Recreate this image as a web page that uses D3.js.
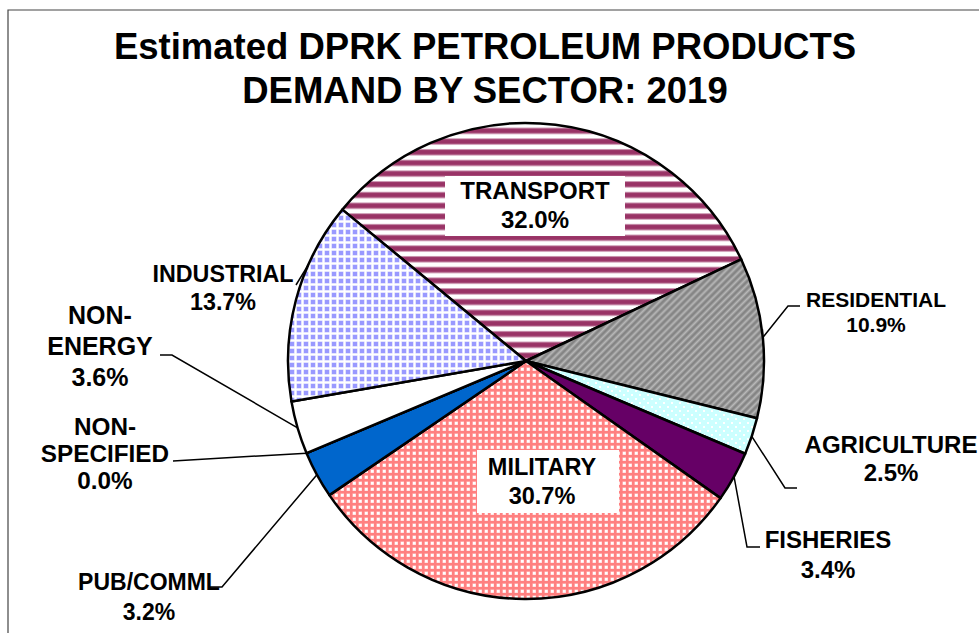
<!DOCTYPE html>
<html>
<head>
<meta charset="utf-8">
<script src="https://cdn.jsdelivr.net/npm/d3@7"></script>
<style>
  html, body { margin: 0; padding: 0; background: #fff; }
  svg { display: block; }
  text { font-family: "Liberation Sans", Arial, sans-serif; font-weight: bold; fill: #000; }
</style>
</head>
<body>
<svg id="chart" width="979" height="633"></svg>
<script>
// ---- data ----
const titleLines = ["Estimated DPRK PETROLEUM PRODUCTS", "DEMAND BY SECTOR: 2019"];
const categories = ["TRANSPORT", "RESIDENTIAL", "AGRICULTURE", "FISHERIES", "MILITARY", "PUB/COMML", "NON-SPECIFIED", "NON-ENERGY", "INDUSTRIAL"];
const values = [32.0, 10.9, 2.5, 3.4, 30.7, 3.2, 0.0, 3.6, 13.7];
const labelNames = [["TRANSPORT"], ["RESIDENTIAL"], ["AGRICULTURE"], ["FISHERIES"], ["MILITARY"], ["PUB/COMML"], ["NON-", "SPECIFIED"], ["NON-", "ENERGY"], ["INDUSTRIAL"]];

// ---- layout / style ----
const W = 979, H = 633;
const cx = 526, cy = 361, R = 238;
const startDeg = -50.5;
const fills = ["url(#pTransport)", "url(#pResidential)", "url(#pAgri)", "#660066", "url(#pMilitary)", "#0066cc", "#ffffff", "#ffffff", "url(#pIndustrial)"];
const labelLayout = {
  "TRANSPORT":     {x: 535, y: 199, lh: 29, fs: 24, box: [445, 176, 180, 60]},
  "MILITARY":      {x: 542, y: 475, lh: 29, fs: 23.5, box: [477, 450, 142, 63]},
  "RESIDENTIAL":   {x: 876, y: 307, lh: 25, fs: 21, leader: [[788, 306], [800, 306]]},
  "AGRICULTURE":   {x: 891, y: 453, lh: 28, fs: 24, leader: [[785, 488], [797, 488]]},
  "FISHERIES":     {x: 828, y: 548, lh: 30, fs: 24, leader: [[747, 547], [760, 547]]},
  "PUB/COMML":     {x: 149, y: 590, lh: 30, fs: 23, leader: [[222, 587], [208, 587]]},
  "NON-SPECIFIED": {x: 105, y: 435, lh: 27, fs: 24.3, leader: [[173, 461]]},
  "NON-ENERGY":    {x: 100, y: 324, lh: 31, fs: 25, leader: [[172, 355], [160, 355]]},
  "INDUSTRIAL":    {x: 223, y: 282, lh: 28, fs: 23.3, leader: [[296, 285]], leaderAngle: 293.8}
};

const svg = d3.select("#chart");
const defs = svg.append("defs");

// Transport: horizontal maroon stripes
{
  const p = defs.append("pattern").attr("id", "pTransport").attr("patternUnits", "userSpaceOnUse")
    .attr("width", 10).attr("height", 10.7);
  p.append("rect").attr("width", 10).attr("height", 10.7).attr("fill", "#ffffff");
  p.append("rect").attr("y", 2).attr("width", 10).attr("height", 6.5).attr("fill", "#c991ad");
  p.append("rect").attr("y", 3).attr("width", 10).attr("height", 4.5).attr("fill", "#993366");
}
// Residential: gray with diagonal light stripes
{
  const p = defs.append("pattern").attr("id", "pResidential").attr("patternUnits", "userSpaceOnUse")
    .attr("width", 5).attr("height", 5).attr("patternTransform", "rotate(-45)");
  p.append("rect").attr("width", 5).attr("height", 5).attr("fill", "#858585");
  p.append("rect").attr("y", 1.5).attr("width", 5).attr("height", 2).attr("fill", "#b8b8b8");
}
// Agriculture: light cyan with white dots
{
  const p = defs.append("pattern").attr("id", "pAgri").attr("patternUnits", "userSpaceOnUse")
    .attr("width", 8).attr("height", 8);
  p.append("rect").attr("width", 8).attr("height", 8).attr("fill", "#ccffff");
  p.append("rect").attr("x", 1).attr("y", 1).attr("width", 2).attr("height", 2).attr("fill", "#ffffff");
  p.append("rect").attr("x", 5).attr("y", 5).attr("width", 2).attr("height", 2).attr("fill", "#ffffff");
}
// Military: pink with white small squares
{
  const p = defs.append("pattern").attr("id", "pMilitary").attr("patternUnits", "userSpaceOnUse")
    .attr("width", 6).attr("height", 6);
  p.append("rect").attr("width", 6).attr("height", 6).attr("fill", "#ff8080");
  p.append("rect").attr("x", 0.5).attr("y", 0.5).attr("width", 3.5).attr("height", 3.5).attr("fill", "#ffd0d0");
  p.append("rect").attr("x", 1).attr("y", 1).attr("width", 2.5).attr("height", 2.5).attr("fill", "#ffffff");
}
// Industrial: lavender-blue with white grid
{
  const p = defs.append("pattern").attr("id", "pIndustrial").attr("patternUnits", "userSpaceOnUse")
    .attr("width", 7).attr("height", 7);
  p.append("rect").attr("width", 7).attr("height", 7).attr("fill", "#ffffff");
  p.append("rect").attr("x", 1.5).attr("y", 1.5).attr("width", 5).attr("height", 5).attr("fill", "#c8c8ff");
  p.append("rect").attr("x", 2).attr("y", 2).attr("width", 4).attr("height", 4).attr("fill", "#9999ff");
}

// frame
svg.append("path").attr("d", `M8,${H} V10 H${W}`).attr("fill", "none").attr("stroke", "#444").attr("stroke-width", 1.2);

// title
svg.append("g").selectAll("text").data(titleLines).join("text")
  .attr("x", 485).attr("y", (d, i) => 59 + i * 44)
  .attr("text-anchor", "middle").attr("font-size", 36.5).text(d => d);

// pie
const data = categories.map((c, i) => ({cat: c, value: values[i], fill: fills[i], lines: labelNames[i]}));
const toRad = d => d * Math.PI / 180;
const pie = d3.pie().sort(null).value(d => d.value)
  .startAngle(toRad(startDeg)).endAngle(toRad(startDeg) + 2 * Math.PI);
const arcs = pie(data);
const arc = d3.arc().innerRadius(0).outerRadius(R);

const g = svg.append("g").attr("transform", `translate(${cx},${cy})`);
g.selectAll("path.slice").data(arcs).join("path").attr("class", "slice")
  .attr("d", arc).attr("fill", d => d.data.fill)
  .attr("stroke", "#000").attr("stroke-width", 2.5).attr("stroke-linejoin", "round");

// leader lines
const pt = ang => [cx + R * Math.sin(ang), cy - R * Math.cos(ang)];
const line = d3.line();
arcs.forEach(a => {
  const L = labelLayout[a.data.cat];
  if (!L.leader) return;
  const ang = L.leaderAngle !== undefined ? toRad(L.leaderAngle) : (a.startAngle + a.endAngle) / 2;
  const pts = [pt(ang)].concat(L.leader);
  svg.append("path").attr("d", line(pts)).attr("fill", "none").attr("stroke", "#000").attr("stroke-width", 1.5);
});

// labels
const fmt = d3.format(".1f");
arcs.forEach(a => {
  const L = labelLayout[a.data.cat];
  if (L.box) {
    svg.append("rect").attr("x", L.box[0]).attr("y", L.box[1]).attr("width", L.box[2]).attr("height", L.box[3]).attr("fill", "#fff");
  }
  const lines = a.data.lines.concat([fmt(a.data.value) + "%"]);
  svg.append("g").selectAll("text").data(lines).join("text")
    .attr("x", L.x).attr("y", (d, i) => L.y + i * L.lh)
    .attr("text-anchor", "middle").attr("font-size", L.fs).text(d => d);
});
</script>
</body>
</html>
